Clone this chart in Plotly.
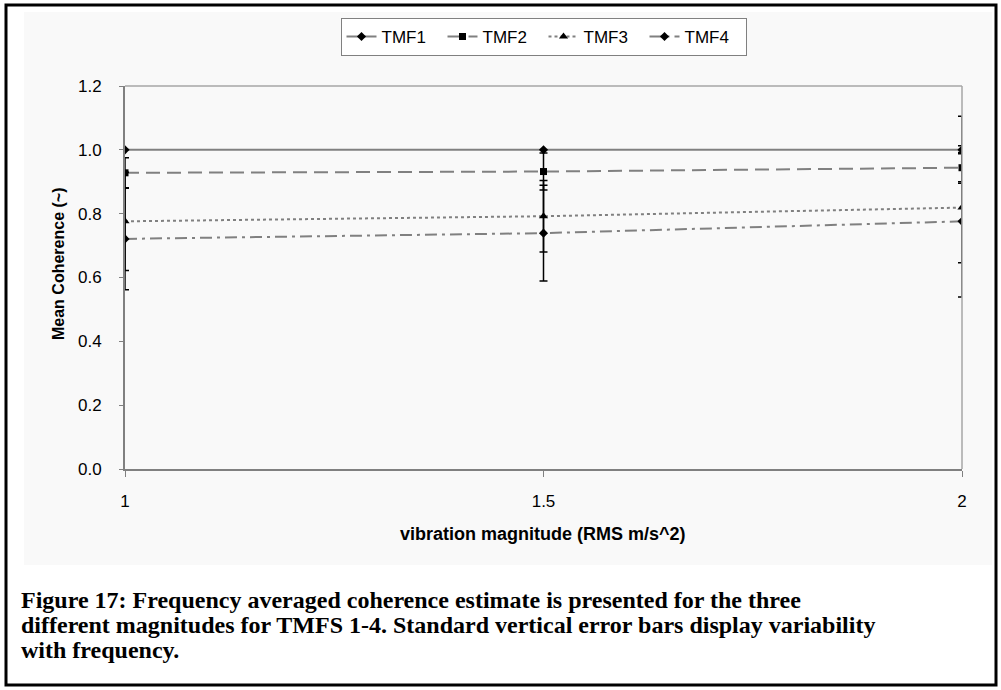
import plotly.graph_objects as go

# Vibration magnitudes (RMS m/s^2)
magnitude = [1, 1.5, 2]
tick_labels = ["1", "1.5", "2"]

# Frequency-averaged mean coherence per TMF
tmf1 = [1.0, 1.0, 1.0]
tmf2 = [0.928, 0.932, 0.944]
tmf3 = [0.776, 0.792, 0.819]
tmf4 = [0.721, 0.739, 0.776]

# Standard deviation across frequency (vertical error bars)
tmf1_sd = [0.0, 0.0, 0.105]
tmf2_sd = [0.047, 0.058, 0.044]
tmf3_sd = [0.154, 0.112, 0.173]
tmf4_sd = [0.159, 0.150, 0.237]

W, H = 1001, 690
PL, PR, PT, PB = 125, 962, 86, 469  # plot area in pixels

LINE = "#808080"
series = [
    ("TMF1", tmf1, tmf1_sd, "solid", "diamond", 7),
    ("TMF2", tmf2, tmf2_sd, "14px,7px", "square", 7),
    ("TMF3", tmf3, tmf3_sd, "3px,3px", "triangle-up", 8),
    ("TMF4", tmf4, tmf4_sd, "12px,5px,3px,5px", "diamond", 7),
]

fig = go.Figure()
for name, vals, sd, dash, sym, size in series:
    fig.add_trace(go.Scatter(
        x=magnitude, y=vals, name=name, mode="lines+markers",
        line=dict(color=LINE, width=2, dash=dash),
        marker=dict(symbol=sym, size=size, color="black"),
        error_y=dict(type="data", array=sd, visible=True,
                     color="black", thickness=1.5, width=4),
    ))


def px_x(p):
    return (p - PL) / (PR - PL)


def px_y(p):
    return (PB - p) / (PB - PT)


SANS = "Liberation Sans, Arial"
SERIF = "Liberation Serif, Times New Roman"
axis_font = dict(family=SANS, size=17, color="black")

fig.update_layout(
    width=W, height=H,
    margin=dict(l=PL, r=W - PR, t=PT, b=H - PB, pad=0),
    paper_bgcolor="white",
    plot_bgcolor="white",
    showlegend=True,
    legend=dict(
        orientation="h", x=0.5, xanchor="center",
        y=px_y(37), yanchor="middle",
        bgcolor="white", bordercolor="#808080", borderwidth=1,
        font=dict(family=SANS, size=17, color="black"), itemwidth=30,
        entrywidth=56, entrywidthmode="pixels",
        tracegroupgap=0,
    ),
    xaxis=dict(
        range=[1, 2], tickvals=magnitude, ticktext=tick_labels,
        showgrid=False, zeroline=False,
        showline=True, linecolor=LINE, linewidth=2,
        ticks="outside", ticklen=6, tickcolor=LINE, tickwidth=1,
        tickfont=axis_font, ticklabelstandoff=10,
    ),
    yaxis=dict(
        range=[0, 1.2], dtick=0.2, tickformat=".1f",
        showgrid=False, zeroline=False,
        showline=True, linecolor=LINE, linewidth=2,
        ticks="outside", ticklen=4, tickcolor=LINE, tickwidth=1,
        tickfont=axis_font, ticklabelstandoff=14,
    ),
)

# Chart area, plot frame and outer figure frame
fig.add_shape(type="rect", xref="paper", yref="paper", layer="below",
              x0=px_x(24), x1=px_x(992), y0=px_y(565), y1=px_y(12),
              fillcolor="#f9f9f9", line=dict(width=0))
fig.add_shape(type="line", xref="paper", yref="paper",
              x0=0, x1=1, y0=1, y1=1, line=dict(color="#a6a6a6", width=1.5))
fig.add_shape(type="line", xref="paper", yref="paper",
              x0=1, x1=1, y0=0, y1=1, line=dict(color="#a6a6a6", width=1.5))
fig.add_shape(type="rect", xref="paper", yref="paper",
              x0=px_x(6), x1=px_x(996), y0=px_y(685), y1=px_y(5),
              line=dict(color="black", width=3), fillcolor="rgba(0,0,0,0)")

# Axis titles
fig.add_annotation(xref="paper", yref="paper", x=px_x(543), y=px_y(546),
                   text="<b>vibration magnitude (RMS m/s^2)</b>", showarrow=False,
                   font=dict(family=SANS, size=18, color="black"))
fig.add_annotation(xref="paper", yref="paper", x=px_x(58), y=px_y(264),
                   xanchor="center", yanchor="middle",
                   text="<b>Mean Coherence (~)</b>", showarrow=False, textangle=-90,
                   font=dict(family=SANS, size=16, color="black"))

# Caption
caption = [
    "Figure 17: Frequency averaged coherence estimate is presented for the three",
    "different magnitudes for TMFS 1-4. Standard vertical error bars display variability",
    "with frequency.",
]
for i, line in enumerate(caption):
    fig.add_annotation(xref="paper", yref="paper", x=px_x(19), y=px_y(600 + 25 * i),
                       xanchor="left", yanchor="middle", showarrow=False,
                       text="<b>" + line + "</b>",
                       font=dict(family=SERIF, size=24, color="black"))

fig.write_html("out.html")
